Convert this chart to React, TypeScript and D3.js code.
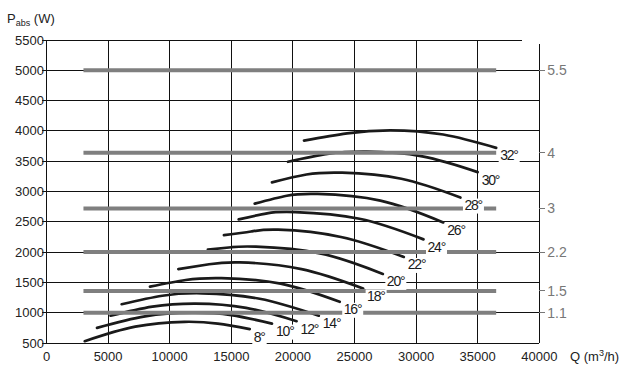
import React from "react";
import * as d3 from "d3";

// ---- data ----
const qTicks = [0, 5000, 10000, 15000, 20000, 25000, 30000, 35000, 40000];
const pTicks = [500, 1000, 1500, 2000, 2500, 3000, 3500, 4000, 4500, 5000, 5500];

const motorPower = [5000, 3640, 2720, 2000, 1360, 1000];
const motorLabels = ["5.5", "4", "3", "2.2", "1.5", "1.1"];
const motorQStart = 3000;
const motorQEnd = 36500;

const angleLabels = ["8°", "10°", "12°", "14°", "16°", "18°", "20°", "22°", "24°", "26°", "28°", "30°", "32°"];

const curve8 = [[3100, 530], [7200, 770], [11200, 850], [13900, 820], [16500, 730]];
const curve10 = [[4100, 750], [8000, 940], [11800, 1000], [15000, 960], [18300, 820]];
const curve12 = [[5200, 950], [8600, 1100], [12100, 1150], [16200, 1080], [20300, 860]];
const curve14 = [[6100, 1140], [9400, 1280], [12600, 1320], [17300, 1230], [22100, 950]];
const curve16 = [[8400, 1430], [11300, 1540], [14200, 1570], [19000, 1480], [23800, 1180]];
const curve18 = [[10700, 1720], [13200, 1800], [15700, 1830], [20700, 1720], [25700, 1400]];
const curve20 = [[13100, 2040], [15000, 2080], [17000, 2090], [22200, 1980], [27300, 1640]];
const curve22 = [[14400, 2280], [16600, 2340], [18800, 2370], [23900, 2250], [29000, 1920]];
const curve24 = [[15600, 2540], [17900, 2640], [20200, 2660], [25400, 2550], [30600, 2210]];
const curve26 = [[16900, 2800], [19500, 2930], [22000, 2960], [27100, 2850], [32200, 2490]];
const curve28 = [[18300, 3150], [21100, 3280], [24000, 3310], [28800, 3210], [33600, 2900]];
const curve30 = [[19600, 3490], [22800, 3620], [26000, 3660], [30500, 3580], [35000, 3320]];
const curve32 = [[20900, 3840], [24400, 3960], [27900, 4010], [32200, 3940], [36500, 3720]];

const curveData = [curve8, curve10, curve12, curve14, curve16, curve18, curve20, curve22, curve24, curve26, curve28, curve30, curve32];

const topLineEndQ = 38600;

const FONT = "'Liberation Sans', Arial, Helvetica, sans-serif";

export default function App() {
  const W = 629, H = 377;
  const x = d3.scaleLinear().domain([0, 40000]).range([46.5, 539.3]);
  const y = d3.scaleLinear().domain([500, 5500]).range([343, 40]);
  const line = d3.line<number[]>().x(d => x(d[0])).y(d => y(d[1])).curve(d3.curveNatural);

  const yTop = y(5500), yBot = y(500);

  return (
    <svg width={W} height={H} style={{ position: "absolute", left: 0, top: 0, background: "#fff", display: "block" }}
      fontFamily={FONT}>
      <rect x={0} y={0} width={W} height={H} fill="#fff" />
      {/* horizontal grid */}
      {pTicks.map(p => (
        <line key={"h" + p} x1={42} x2={p === 5500 ? x(topLineEndQ) : x(40000)} y1={y(p)} y2={y(p)}
          stroke="#111" strokeWidth={1} shapeRendering="crispEdges" />
      ))}
      {/* vertical grid */}
      {qTicks.map(q => (
        <line key={"v" + q} x1={x(q)} x2={x(q)} y1={q === 40000 ? yTop + 4 : yTop} y2={yBot}
          stroke="#111" strokeWidth={1} shapeRendering="crispEdges" />
      ))}
      {/* left tick labels */}
      {pTicks.map(p => (
        <text key={"pl" + p} x={44} y={y(p) + 4.5} textAnchor="end" fontSize={13} fill="#222">{p}</text>
      ))}
      {/* bottom tick labels */}
      {qTicks.map(q => (
        <text key={"ql" + q} x={x(q)} y={361} textAnchor="middle" fontSize={13} fill="#222">{q}</text>
      ))}
      <text x={570} y={361} fontSize={13} fill="#222">
        Q (m<tspan dy={-5} fontSize={9}>3</tspan><tspan dy={5}>/h)</tspan>
      </text>
      {/* y axis title */}
      <text x={7} y={23} fontSize={13} fill="#222">
        P<tspan dy={3} fontSize={9}>abs</tspan><tspan dy={-3}> (W)</tspan>
      </text>
      {/* curves */}
      {curveData.map((c, i) => (
        <path key={"c" + i} d={line(c) || ""} fill="none" stroke="#1a1a1a" strokeWidth={2.7} strokeLinecap="round" />
      ))}
      {/* motor power grey lines */}
      {motorPower.map((p, i) => (
        <line key={"m" + i} x1={x(motorQStart)} x2={x(motorQEnd)} y1={y(p)} y2={y(p)} stroke="#7f7f7f" strokeWidth={4} />
      ))}
      {/* right axis ticks & labels */}
      {motorPower.map((p, i) => (
        <g key={"r" + i}>
          <line x1={x(40000)} x2={x(40000) + 6} y1={y(p)} y2={y(p)} stroke="#777" strokeWidth={1} shapeRendering="crispEdges" />
          <text x={x(40000) + 8} y={y(p) + 5} fontSize={14} fill="#777">{motorLabels[i]}</text>
        </g>
      ))}
      {/* curve labels */}
      {curveData.map((c, i) => {
        const end = c[c.length - 1];
        const ex = x(end[0]), ey = y(end[1]);
        const lbl = angleLabels[i];
        const w = (lbl.length - 1) * 6.6 + 4.8;
        return (
          <g key={"l" + i}>
            <rect x={ex + 2.5} y={ey + 1} width={w + 3} height={15} fill="#fff" />
            <text x={ex + 4} y={ey + 12.5} fontSize={14} letterSpacing={-1.2} fill="#1a1a1a">{lbl}</text>
          </g>
        );
      })}
    </svg>
  );
}
